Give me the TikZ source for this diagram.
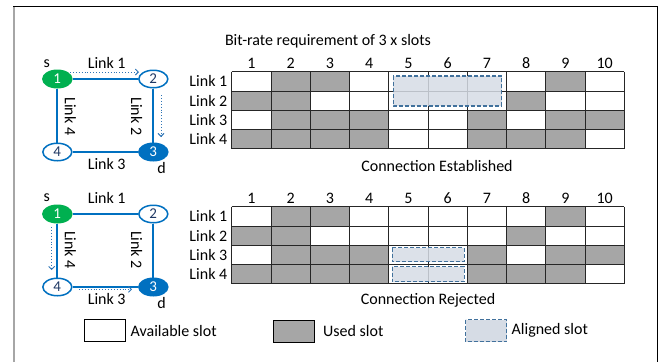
\documentclass[tikz,border=0pt]{standalone}
\usepackage{fontspec}
\setmainfont{Carlito}
\usetikzlibrary{shapes.geometric,arrows.meta}
\definecolor{nodegreen}{HTML}{00B050}
\definecolor{nodeblue}{HTML}{0070C0}
\definecolor{navy}{HTML}{1F3864}
\definecolor{dotblue}{HTML}{2E75B6}
\definecolor{usedgray}{HTML}{A6A6A6}
\definecolor{alfill}{HTML}{D6DCE5}
\definecolor{alline}{HTML}{41719C}
\tikzset{
  txt/.style={inner sep=0pt, font=\fontsize{16}{19}\selectfont},
  netnode/.style={ellipse, minimum width=29pt, minimum height=17.5pt, inner sep=0pt, line width=1.5pt, font=\fontsize{15}{18}\selectfont},
  greennode/.style={netnode, fill=nodegreen, draw=nodegreen, text=white},
  bluenode/.style={netnode, fill=nodeblue, draw=nodeblue, text=white},
  whitenode/.style={netnode, fill=white, draw=nodeblue, text=navy},
  linkline/.style={draw=nodeblue, line width=1.8pt},
  dotarrow/.style={draw=dotblue, line width=0.9pt, dotted, -{Straight Barb[length=3pt,width=6pt]}},
  cellline/.style={draw=black!85, line width=0.9pt},
  alignedbox/.style={fill=alfill, fill opacity=0.85, draw=alline, dashed, line width=1.2pt, dash pattern=on 4pt off 2pt},
  legendbox/.style={draw=black, line width=1pt},
}
\newcommand{\slotgrid}{%
  \foreach \r/\c in {1/2,1/3,1/9,2/1,2/2,2/8,3/2,3/3,3/4,3/7,3/9,3/10,4/1,4/2,4/3,4/4,4/7,4/8,4/9}
    \fill[usedgray] ({231.7+(\c-1)*39.26},{71.7+(\r-1)*19.25}) rectangle ++(39.26,19.25);
  \foreach \i in {0,...,10}
    \draw[cellline] ({231.7+\i*39.26},71.7) -- ({231.7+\i*39.26},148.7);
  \foreach \j in {0,...,4}
    \draw[cellline] (231.7,{71.7+\j*19.25}) -- (624.3,{71.7+\j*19.25});
  \foreach \c in {1,...,10}
    \node[txt] (num\c) at ({231.7+(\c-0.5)*39.26},63) {\c};
  \foreach \r in {1,...,4}
    \node[txt, anchor=east] (lab\r) at (227.5,{71.7+(\r-0.5)*19.25}) {Link \r};
}
\begin{document}
\begin{tikzpicture}[x=1pt,y=-1pt]
\useasboundingbox (0,0) rectangle (670,362);
% frame
\draw[gray!70, line width=2pt] (14,362) -- (14,6);
\draw[black, line width=1pt] (13,6) -- (657.5,6) -- (657.5,362);

% ---------- top network ----------
\node[greennode] (a1) at (57.3,79) {1};
\node[whitenode] (a2) at (153.3,79) {2};
\node[bluenode] (a3) at (153.3,152) {3};
\node[whitenode] (a4) at (57.3,152) {4};
\draw[linkline] (a1) -- (a2);
\draw[linkline] (a2) -- (a3);
\draw[linkline] (a3) -- (a4);
\draw[linkline] (a4) -- (a1);
\node[txt] (as) at (46.7,63.3) {s};
\node[txt] (ad) at (161.7,168.3) {d};
\node[txt] (al1) at (106.7,63.3) {Link 1};
\node[txt] (al3) at (106.7,164.3) {Link 3};
\node[txt, rotate=-90] (al4) at (70.5,116.5) {Link 4};
\node[txt, rotate=-90] (al2) at (136.7,116.5) {Link 2};
\coordinate (aps) at (70,72);
\coordinate (ape) at (139,72);
\coordinate (aqs) at (161,95);
\coordinate (aqe) at (161,137);
\draw[dotarrow] (aps) -- (ape);
\draw[dotarrow] (aqs) -- (aqe);

% ---------- top grid ----------
\node[txt] (title) at (328,41.7) {Bit-rate requirement of 3 x slots};
\slotgrid
\draw[alignedbox] (393.3,76) rectangle (501.7,106);
\node[txt] (est) at (437,166) {Connection Established};

% ---------- bottom network ----------
\node[greennode] (b1) at (57.3,214) {1};
\node[whitenode] (b2) at (153.3,214) {2};
\node[bluenode] (b3) at (153.3,287) {3};
\node[whitenode] (b4) at (57.3,287) {4};
\draw[linkline] (b1) -- (b2);
\draw[linkline] (b2) -- (b3);
\draw[linkline] (b3) -- (b4);
\draw[linkline] (b4) -- (b1);
\node[txt] (bs) at (46.7,197.3) {s};
\node[txt] (bd) at (161.7,303.3) {d};
\node[txt] (bl1) at (106.7,198.3) {Link 1};
\node[txt] (bl3) at (106.7,299.3) {Link 3};
\node[txt, rotate=-90] (bl4) at (70.5,250) {Link 4};
\node[txt, rotate=-90] (bl2) at (136.7,250) {Link 2};
\coordinate (bps) at (51.7,227);
\coordinate (bpe) at (51.7,270);
\coordinate (bqs) at (79,289.3);
\coordinate (bqe) at (132,289.3);
\draw[dotarrow] (bps) -- (bpe);
\draw[dotarrow] (bqs) -- (bqe);

% ---------- bottom grid ----------
\begin{scope}[shift={(0,135)}]
\slotgrid
\end{scope}
\draw[alignedbox] (392.3,247.7) rectangle (464.3,261.7);
\draw[alignedbox] (392.3,266.7) rectangle (464.3,281.7);
\node[txt] (rej) at (428,300) {Connection Rejected};

% ---------- legend ----------
\draw[legendbox, fill=white] (84,319.5) rectangle (125,341.5);
\node[txt, anchor=west] (lavail) at (130.5,330.5) {Available slot};
\draw[legendbox, fill=usedgray] (273.5,320) rectangle (314.3,342);
\node[txt, anchor=west] (lused) at (323,330.5) {Used slot};
\draw[alignedbox, fill opacity=1] (465.7,319.5) rectangle (506.7,341.5);
\node[txt, anchor=west] (lalign) at (511.5,330.5) {Aligned slot};
\end{tikzpicture}
\end{document}
